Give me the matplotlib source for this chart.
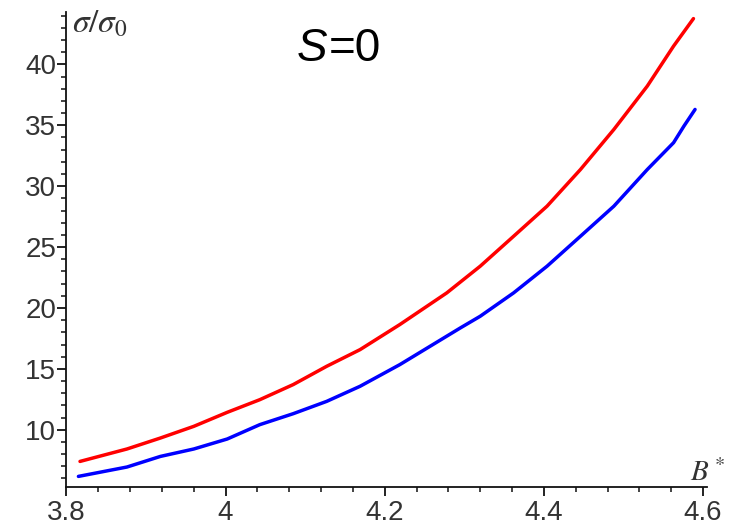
import numpy as np
import matplotlib
matplotlib.use("Agg")
import matplotlib.pyplot as plt
from matplotlib.ticker import MultipleLocator, FixedLocator, FixedFormatter

plt.rcParams['mathtext.fontset'] = 'stix'
plt.rcParams['font.family'] = ['Liberation Sans', 'DejaVu Sans']

# Data
red_x = [3.817, 3.876, 3.918, 3.960, 4.002, 4.043, 4.085, 4.127, 4.169, 4.219,
         4.278, 4.320, 4.362, 4.404, 4.446, 4.488, 4.530, 4.563, 4.588]
red_y = [7.40, 8.42, 9.32, 10.28, 11.43, 12.47, 13.71, 15.21, 16.58, 18.64,
         21.24, 23.43, 25.89, 28.36, 31.37, 34.66, 38.22, 41.50, 43.76]

blue_x = [3.815, 3.876, 3.918, 3.960, 4.002, 4.043, 4.085, 4.127, 4.169, 4.219,
          4.295, 4.320, 4.362, 4.404, 4.446, 4.488, 4.530, 4.563, 4.576, 4.590]
blue_y = [6.17, 6.94, 7.81, 8.42, 9.24, 10.42, 11.32, 12.33, 13.57, 15.35,
          18.36, 19.32, 21.24, 23.43, 25.89, 28.36, 31.37, 33.57, 34.93, 36.30]

x_ticks = [3.8, 4.0, 4.2, 4.4, 4.6]
x_tick_labels = ["3.8", "4", "4.2", "4.4", "4.6"]
y_ticks = [10, 15, 20, 25, 30, 35, 40]
y_tick_labels = ["10", "15", "20", "25", "30", "35", "40"]

fig = plt.figure(figsize=(7.33, 5.32), dpi=100)
ax = fig.add_axes([0.0907, 0.0846, 0.9645 - 0.0907, 0.9774 - 0.0846])

ax.plot(red_x, red_y, color='#ff0000', lw=2.5, solid_capstyle='round')
ax.plot(blue_x, blue_y, color='#0000ff', lw=2.5, solid_capstyle='round')

ax.set_xlim(3.8, 4.605)
ax.set_ylim(5.3, 44.3)

for s in ['top', 'right']:
    ax.spines[s].set_visible(False)
for s in ['left', 'bottom']:
    ax.spines[s].set_linewidth(1.3)
    ax.spines[s].set_color('#111111')

ax.xaxis.set_major_locator(FixedLocator(x_ticks))
ax.xaxis.set_major_formatter(FixedFormatter(x_tick_labels))
ax.xaxis.set_minor_locator(MultipleLocator(0.04))
ax.yaxis.set_major_locator(FixedLocator(y_ticks))
ax.yaxis.set_major_formatter(FixedFormatter(y_tick_labels))
ax.yaxis.set_minor_locator(MultipleLocator(1))

ax.tick_params(which='major', direction='out', length=6.5, width=1.3,
               labelsize=20, colors='#111111', labelcolor='#333333')
ax.tick_params(which='minor', direction='out', length=3.8, width=1.1,
               colors='#111111')
ax.tick_params(axis='y', which='major', pad=1)
ax.tick_params(axis='x', which='major', pad=3)

fig.text(72 / 733, 1 - 24 / 532, r'$\sigma/\sigma_0$', fontsize=24,
         color='#333333', va='center', ha='left')
fig.text(690 / 733, 1 - 473 / 532, r'$B^*$', fontsize=21,
         color='#333333', va='center', ha='left')

fig.text(297 / 733, 1 - 61 / 532, 'S', fontsize=33, style='italic',
         va='baseline', ha='left', color='black')
fig.text(329 / 733, 1 - 61 / 532, '=0', fontsize=33,
         va='baseline', ha='left', color='black')

fig.savefig('out.png', dpi=100, facecolor='white')
